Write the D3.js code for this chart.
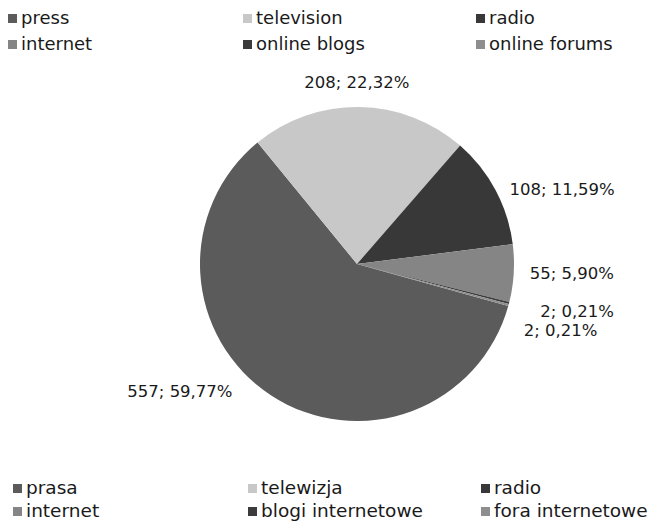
<!DOCTYPE html>
<html>
<head>
<meta charset="utf-8">
<script src="https://cdn.jsdelivr.net/npm/d3@7/dist/d3.min.js"></script>
<style>
  html, body { margin: 0; padding: 0; background: #ffffff; }
  svg { display: block; }
  text { font-family: "DejaVu Sans", sans-serif; fill: #1a1a1a; }
</style>
</head>
<body>
<script>
// Media sources: counts and their shares
const categoriesEn = ["press", "television", "radio", "internet", "online blogs", "online forums"];
const categoriesPl = ["prasa", "telewizja", "radio", "internet", "blogi internetowe", "fora internetowe"];
const counts = [557, 208, 108, 55, 2, 2];
const shares = ["59,77%", "22,32%", "11,59%", "5,90%", "0,21%", "0,21%"];
const colors = ["#5b5b5b", "#c8c8c8", "#383838", "#858585", "#3c3c3c", "#8e8e8e"];

const W = 672, H = 523;
const cx = 357, cy = 264, R = 157;

const svg = d3.select("body").append("svg")
  .attr("width", W).attr("height", H);

svg.append("rect").attr("width", W).attr("height", H).attr("fill", "#ffffff");

// Pie: first slice rotated so that "press" closes just left of twelve o'clock
const startDeg = -254.45;
const pie = d3.pie().sort(null).value(d => d)
  .startAngle(startDeg * Math.PI / 180)
  .endAngle(startDeg * Math.PI / 180 + 2 * Math.PI);
const arcs = pie(counts);

const arc = d3.arc().innerRadius(0).outerRadius(R);
const labelArc = d3.arc().innerRadius(R + 25).outerRadius(R + 25);

const g = svg.append("g").attr("transform", `translate(${cx},${cy})`);

g.selectAll("path.slice")
  .data(arcs)
  .join("path")
  .attr("class", "slice")
  .attr("d", arc)
  .attr("fill", (d, i) => colors[i]);

// Data labels placed just outside each slice, nudged apart where crowded
const labelNudge = [[-25, -25], [-3, 0], [-8, 11], [-9, -1], [7, 2], [-9, 19]];
g.selectAll("text.lbl")
  .data(arcs)
  .join("text")
  .attr("class", "lbl")
  .attr("font-size", 16.5)
  .attr("dominant-baseline", "central")
  .attr("text-anchor", d => {
    const mid = (d.startAngle + d.endAngle) / 2;
    const s = Math.sin(mid);
    if (Math.abs(s) < 0.2) return "middle";
    return s > 0 ? "start" : "end";
  })
  .attr("x", (d, i) => labelArc.centroid(d)[0] + labelNudge[i][0])
  .attr("y", (d, i) => labelArc.centroid(d)[1] + labelNudge[i][1])
  .text((d, i) => `${counts[i]}; ${shares[i]}`);

// Legends: three columns, two rows
function legend(names, colX, rowY, textGap, fontSize, sw) {
  const lg = svg.append("g");
  names.forEach((name, i) => {
    const x = colX[i % 3], y = rowY[Math.floor(i / 3)];
    lg.append("rect")
      .attr("x", x).attr("y", y - sw - 1)
      .attr("width", sw).attr("height", sw)
      .attr("fill", colors[i]);
    lg.append("text")
      .attr("x", x + textGap).attr("y", y)
      .attr("font-size", fontSize)
      .text(name);
  });
}

legend(categoriesEn, [8, 243, 476], [24, 50], 13, 18, 9);
legend(categoriesPl, [13, 248, 481], [494, 517], 13, 18.5, 9);
</script>
</body>
</html>
